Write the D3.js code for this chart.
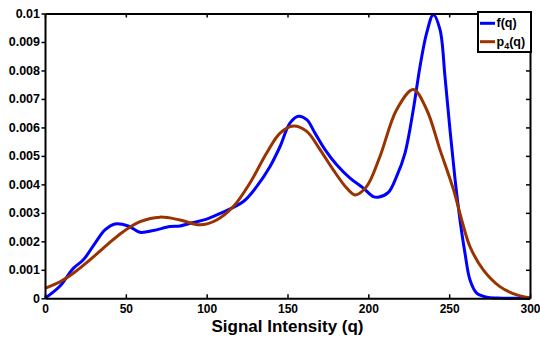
<!DOCTYPE html>
<html>
<head>
<meta charset="utf-8">
<script src="https://cdn.jsdelivr.net/npm/d3@7"></script>
<style>
  html, body { margin: 0; padding: 0; background: #fff; }
  svg { display: block; }
  text { font-family: "Liberation Sans", Arial, Helvetica, sans-serif; font-weight: bold; fill: #000; }
</style>
</head>
<body>
<svg id="chart" width="540" height="339"></svg>
<script>
// ---- data ----
const fQ = [0, 9.3, 17.5, 23.7, 30.9, 37.1, 43.3, 51.5, 58.8, 67, 77.3, 83.5, 91.7, 100, 108, 122.7, 131, 139.2, 145.4, 151.5, 156.7, 161.9, 167, 173.2, 180.4, 188.7, 196.9, 203.1, 206, 212.4, 217.5, 222.7, 227.8, 232, 236.1, 240.2, 244.3, 247.4, 250.5, 253.6, 256.7, 259.8, 262.9, 267, 273.2, 280, 300];
const fVal = [0, 0.00043, 0.00105, 0.00135, 0.00193, 0.00240, 0.00261, 0.00254, 0.00232, 0.00238, 0.00252, 0.00254, 0.00266, 0.00278, 0.00297, 0.00340, 0.00393, 0.00463, 0.00533, 0.00615, 0.00639, 0.00627, 0.00580, 0.00522, 0.00469, 0.00422, 0.00387, 0.00357, 0.00355, 0.00372, 0.00428, 0.00510, 0.00662, 0.00815, 0.00932, 0.00996, 0.00944, 0.00779, 0.00592, 0.00420, 0.00275, 0.00158, 0.00064, 0.00018, 0.00004, 0.00001, 0];
const pQ = [0, 9.3, 17.5, 27.8, 38.2, 48.4, 58.8, 71.1, 83.5, 95.9, 106.2, 116.5, 126.8, 137.1, 145.4, 153.6, 161.9, 170.1, 178.3, 186.6, 191.8, 199, 207.2, 217.5, 227.8, 236.1, 244.3, 252.5, 258, 262.9, 271.1, 281.4, 291.8, 300];
const pVal = [0.00035, 0.00058, 0.00088, 0.00135, 0.00187, 0.00234, 0.00269, 0.00285, 0.00275, 0.00258, 0.00275, 0.00322, 0.00405, 0.00510, 0.00580, 0.00605, 0.00586, 0.00522, 0.00451, 0.00387, 0.00363, 0.00393, 0.00498, 0.00662, 0.00733, 0.00662, 0.00522, 0.00385, 0.00270, 0.00181, 0.00100, 0.00041, 0.00012, 0.00002];
const xTicks = [0, 50, 100, 150, 200, 250, 300];
const yTicks = [0, 0.001, 0.002, 0.003, 0.004, 0.005, 0.006, 0.007, 0.008, 0.009, 0.01];
const yTickLabels = ["0", "0.001", "0.002", "0.003", "0.004", "0.005", "0.006", "0.007", "0.008", "0.009", "0.01"];
const seriesNames = ["f(q)", "p4(q)"];
const seriesColors = ["#0000FF", "#993300"];
const xLabel = "Signal Intensity (q)";

// ---- layout ----
const L = 45, R = 530, T = 13.5, B = 298.3;
const svg = d3.select("#chart");
const x = d3.scaleLinear().domain([0, 300]).range([L, R]);
const y = d3.scaleLinear().domain([0, 0.01]).range([B, T]);

// curves
const line = d3.line().x(d => x(d[0])).y(d => y(d[1])).curve(d3.curveCatmullRom.alpha(0.5));
const fData = fQ.map((q, i) => [q, fVal[i]]);
const pData = pQ.map((q, i) => [q, pVal[i]]);
svg.append("path").attr("d", line(fData)).attr("fill", "none")
  .attr("stroke", seriesColors[0]).attr("stroke-width", 3).attr("stroke-linejoin", "round");
svg.append("path").attr("d", line(pData)).attr("fill", "none")
  .attr("stroke", seriesColors[1]).attr("stroke-width", 3).attr("stroke-linejoin", "round");

// axes
const xAxisB = d3.axisBottom(x).tickValues(xTicks).tickSizeInner(-4).tickSizeOuter(0).tickPadding(6.5).tickFormat(d3.format("d"));
const gxb = svg.append("g").attr("transform", `translate(0,${B})`).call(xAxisB);
const xAxisT = d3.axisTop(x).tickValues(xTicks).tickSizeInner(-4).tickSizeOuter(0).tickFormat("");
const gxt = svg.append("g").attr("transform", `translate(0,${T})`).call(xAxisT);
const yAxisL = d3.axisLeft(y).tickValues(yTicks).tickSizeInner(3.5).tickSizeOuter(0).tickPadding(1.5)
  .tickFormat((d, i) => yTickLabels[i]);
const gyl = svg.append("g").attr("transform", `translate(${L},0)`).call(yAxisL);
const yAxisR = d3.axisRight(y).tickValues(yTicks).tickSizeInner(-4).tickSizeOuter(0).tickFormat("");
const gyr = svg.append("g").attr("transform", `translate(${R},0)`).call(yAxisR);

[gxb, gxt, gyl, gyr].forEach(g => {
  g.select(".domain").attr("stroke", "#000").attr("stroke-width", 2);
  g.selectAll(".tick line").attr("stroke", "#000").attr("stroke-width", 1.5);
  g.selectAll("text").style("font-family", "'Liberation Sans', Arial, sans-serif")
    .style("font-weight", "bold").style("font-size", "12.5px").attr("fill", "#000");
});
gxb.selectAll(".tick text").style("font-size", "12px");

// x label
svg.append("text").attr("x", (L + R) / 2).attr("y", 331.5).attr("text-anchor", "middle")
  .style("font-size", "17px").text(xLabel);

// legend
const lg = svg.append("g");
lg.append("rect").attr("x", 478).attr("y", 12).attr("width", 53).attr("height", 40)
  .attr("fill", "#fff").attr("stroke", "#000").attr("stroke-width", 2);
const legY = [23.3, 41.7];
seriesNames.forEach((name, i) => {
  lg.append("line").attr("x1", 480).attr("x2", 495).attr("y1", legY[i]).attr("y2", legY[i])
    .attr("stroke", seriesColors[i]).attr("stroke-width", 3);
  const t = lg.append("text").attr("x", 496.5).attr("y", legY[i] + 4).style("font-size", "12.5px");
  if (name === "p4(q)") {
    t.append("tspan").text("p");
    t.append("tspan").attr("dy", 3.5).style("font-size", "9px").text("4");
    t.append("tspan").attr("dy", -3.5).text("(q)");
  } else {
    t.text(name);
  }
});
</script>
</body>
</html>
